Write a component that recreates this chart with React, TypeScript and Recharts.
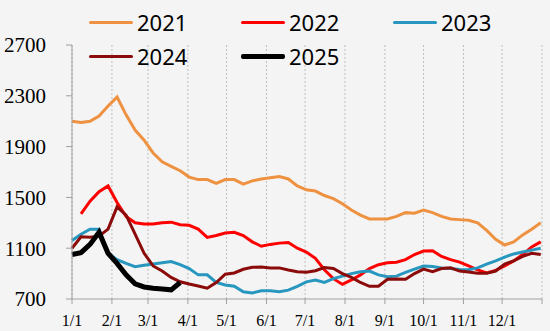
import { CartesianGrid, Line, LineChart, XAxis, YAxis } from "recharts";

// weekly sample days (day of year)
const days = [
  0, 7, 14, 21, 28, 35, 42, 49, 56, 63, 70, 77, 84, 91, 98, 105, 112, 119, 126, 133, 140, 147, 154, 161, 168, 175,
  182, 189, 196, 203, 210, 217, 224, 231, 238, 245, 252, 259, 266, 273, 280, 287, 294, 301, 308, 315, 322, 329, 336,
  343, 350, 357, 364,
];

const s2021 = [
  2100, 2090, 2100, 2140, 2220, 2290, 2150, 2030, 1950, 1850, 1780, 1745, 1710, 1660, 1640, 1640, 1610, 1640, 1640,
  1605, 1630, 1645, 1655, 1665, 1645, 1590, 1560, 1550, 1515, 1490, 1450, 1400, 1360, 1330, 1330, 1330, 1350, 1380,
  1375, 1400, 1380, 1350, 1330, 1325, 1320, 1300, 1240, 1170, 1125, 1150, 1205, 1250, 1300,
];
const s2022 = [
  null, 1370, 1470, 1545, 1590, 1460, 1350, 1300, 1290, 1290, 1300, 1305, 1285, 1280, 1250, 1185, 1200, 1220, 1225,
  1200, 1150, 1115, 1130, 1140, 1145, 1100, 1070, 1020, 930, 860, 815, 850, 890, 940, 970, 985, 990, 1010, 1050, 1078,
  1080, 1035, 1010, 990, 960, 930, 905, 925, 960, 1000, 1050, 1110, 1150,
];
const s2023 = [
  1160, 1210, 1250, 1250, 1060, 1010, 980, 955, 965, 975, 985, 995, 970, 940, 890, 890, 830, 810, 800, 757, 748, 765,
  765, 758, 770, 800, 835, 850, 830, 860, 880, 900, 915, 920, 890, 876, 880, 910, 935, 960, 955, 945, 940, 932, 930,
  945, 975, 1000, 1030, 1055, 1070, 1085, 1100,
];
const s2024 = [
  1100, 1190, 1186, 1195, 1250, 1425, 1360, 1210, 1060, 960, 920, 870, 836, 818, 802, 785, 830, 895, 905, 934, 950,
  952, 945, 945, 928, 915, 910, 923, 948, 940, 900, 870, 830, 800, 800, 855, 857, 855, 900, 935, 915, 940, 945, 920,
  912, 902, 902, 920, 975, 1000, 1035, 1060, 1050,
];
const s2025 = [1050, 1065, 1130, 1225, 1060, 980, 890, 820, 795, 785, 778, 772, 830];

const monthTicks = [0, 31, 59, 90, 120, 151, 181, 212, 243, 273, 304, 334, 365];
const monthLabels = ["1/1", "2/1", "3/1", "4/1", "5/1", "6/1", "7/1", "8/1", "9/1", "10/1", "11/1", "12/1", ""];
const yTicks = [700, 1100, 1500, 1900, 2300, 2700];

const seriesList = [
  { key: "y2021", name: "2021", color: "#EE9242", width: 3 },
  { key: "y2022", name: "2022", color: "#FF0000", width: 3 },
  { key: "y2023", name: "2023", color: "#2797BF", width: 3 },
  { key: "y2024", name: "2024", color: "#8B0A0A", width: 3 },
  { key: "y2025", name: "2025", color: "#000000", width: 5 },
];

const data = days.map((d, i) => ({
  day: d,
  y2021: s2021[i] ?? null,
  y2022: s2022[i] ?? null,
  y2023: s2023[i] ?? null,
  y2024: s2024[i] ?? null,
  y2025: s2025[i] ?? null,
}));

// legend: 3 columns x 2 rows, overlapping the top of the plot
const legendPos = [
  { left: 89, top: 8 },
  { left: 241, top: 8 },
  { left: 393, top: 8 },
  { left: 89, top: 42 },
  { left: 241, top: 42 },
];

function ChartLegend() {
  return (
    <div style={{ position: "absolute", left: 0, top: 0, width: 550, height: 70, pointerEvents: "none" }}>
      {seriesList.map((s, i) => (
        <div
          key={s.key}
          style={{
            position: "absolute",
            left: legendPos[i].left,
            top: legendPos[i].top,
            display: "flex",
            alignItems: "center",
            height: 28,
          }}
        >
          <span
            style={{
              display: "inline-block",
              width: 44,
              height: s.width,
              borderRadius: 2,
              backgroundColor: s.color,
              marginRight: 4,
            }}
          />
          <span style={{ fontFamily: "'Noto Sans', sans-serif", fontSize: 22, color: "#000" }}>{s.name}</span>
        </div>
      ))}
    </div>
  );
}

export default function App() {
  return (
    <div style={{ position: "absolute", left: 0, top: 0, width: 550, height: 331, background: "#F4F4F4" }}>
      <LineChart width={550} height={331} data={data} margin={{ top: 45, right: 8, bottom: 0, left: 0 }}>
        <CartesianGrid horizontal={false} stroke="#BDBDBD" strokeDasharray="2 2" />
        <XAxis
          dataKey="day"
          type="number"
          domain={[0, 365]}
          ticks={monthTicks}
          tickFormatter={(v: number) => monthLabels[monthTicks.indexOf(v)] ?? ""}
          height={32}
          stroke="#A0A0A0"
          tickSize={5}
          tickMargin={11}
          tick={{ fill: "#000", fontSize: 16, fontFamily: "'Liberation Serif', serif" }}
          interval={0}
        />
        <YAxis
          domain={[700, 2700]}
          ticks={yTicks}
          width={72}
          stroke="#A0A0A0"
          tickSize={6}
          tickMargin={20}
          tick={{ fill: "#000", fontSize: 21, fontFamily: "'Liberation Serif', serif" }}
          interval={0}
        />
        {seriesList.map((s) => (
          <Line
            key={s.key}
            type="linear"
            dataKey={s.key}
            name={s.name}
            stroke={s.color}
            strokeWidth={s.width}
            dot={false}
            activeDot={false}
            isAnimationActive={false}
          />
        ))}
      </LineChart>
      <ChartLegend />
    </div>
  );
}
